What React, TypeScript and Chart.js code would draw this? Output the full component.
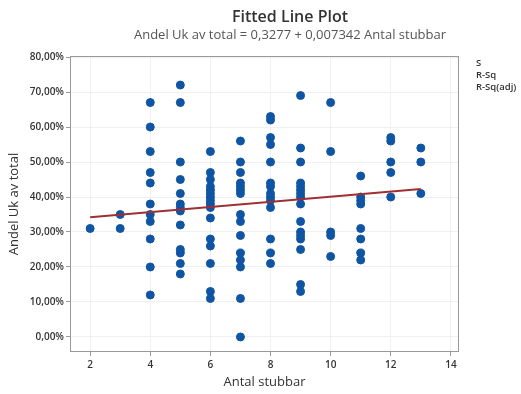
import React, { useEffect, useRef } from "react";
import { Chart, registerables } from "chart.js";
Chart.register(...registerables);

const stubbarLevels = [2, 3, 4, 5, 6, 7, 8, 9, 10, 11, 12, 13];
const andelByLevel: number[][] = [
  [31],
  [35, 31],
  [67, 60, 53, 47, 44, 38, 35, 33, 28, 20, 12],
  [72, 67, 50, 45, 41, 38, 37, 36, 32, 25, 24, 21, 18],
  [53, 47, 45, 43, 42, 41, 40, 39, 38, 37, 34, 28, 26, 21, 13, 11],
  [56, 50, 47, 44, 43, 42, 41, 35, 33, 29, 24, 22, 20, 11, 0],
  [63, 62, 57, 55, 50, 44, 43, 41, 40, 39, 37, 28, 24, 21],
  [69, 54, 50, 44, 43, 42, 41, 40, 38, 33, 30, 29, 28, 25, 15, 13],
  [67, 53, 30, 29, 23],
  [46, 40, 39, 38, 31, 28, 24, 22],
  [57, 56, 50, 47, 40],
  [54, 50, 41],
];
const intercept = 0.3277;
const slope = 0.007342;
const fitRange = [2, 13];
const xTicks = [2, 4, 6, 8, 10, 12, 14];
const yTicks = [0, 0.1, 0.2, 0.3, 0.4, 0.5, 0.6, 0.7, 0.8];
const titleText = "Fitted Line Plot";
const subtitleText = "Andel Uk av total = 0,3277 + 0,007342 Antal stubbar";
const statLabels = ["S", "R-Sq", "R-Sq(adj)"];

const FONT = "'Open Sans', 'Noto Sans', sans-serif";

export default function App() {
  const ref = useRef<HTMLCanvasElement>(null);
  useEffect(() => {
    document.body.style.margin = "0";
    const points: { x: number; y: number }[] = [];
    stubbarLevels.forEach((x, i) => {
      andelByLevel[i].forEach((v) => points.push({ x, y: v / 100 }));
    });
    const fit = fitRange.map((x) => ({ x, y: intercept + slope * x }));

    const decor = {
      id: "decor",
      beforeDatasetsDraw(chart: any) {
        const { ctx, chartArea: a } = chart;
        ctx.save();
        ctx.strokeStyle = "#9a9a9a";
        ctx.lineWidth = 1;
        ctx.strokeRect(a.left + 0.5, a.top + 0.5, a.right - a.left - 1, a.bottom - a.top - 1);
        ctx.restore();
      },
      afterDraw(chart: any) {
        const { ctx } = chart;
        ctx.save();
        ctx.textAlign = "center";
        ctx.textBaseline = "middle";
        ctx.fillStyle = "#333";
        ctx.font = `600 16px ${FONT}`;
        ctx.fillText(titleText, 290, 17);
        ctx.fillStyle = "#555";
        ctx.font = `13px ${FONT}`;
        ctx.fillText(subtitleText, 290, 35);
        ctx.textAlign = "left";
        ctx.fillStyle = "#333";
        ctx.font = `600 9.5px ${FONT}`;
        statLabels.forEach((s, i) => ctx.fillText(s, 476, 63 + i * 12));
        ctx.restore();
      },
    };

    const chart = new Chart(ref.current!, {
      type: "scatter",
      data: {
        datasets: [
          {
            type: "line",
            data: fit,
            borderColor: "#9e3033",
            borderWidth: 2,
            pointRadius: 0,
            order: 0,
          } as any,
          {
            data: points,
            backgroundColor: "#0f55a3",
            borderColor: "#0f55a3",
            pointRadius: 4,
            pointHoverRadius: 4,
            order: 1,
          },
        ],
      },
      plugins: [decor],
      options: {
        responsive: false,
        animation: false,
        layout: { padding: { top: 56, right: 62, left: 0, bottom: 0 } },
        plugins: { legend: { display: false }, tooltip: { enabled: false } },
        scales: {
          x: {
            type: "linear",
            min: 1.33,
            max: 14.27,
            afterBuildTicks: (s: any) => { s.ticks = xTicks.map((v) => ({ value: v })); },
            afterFit: (s: any) => { s.height = 42; },
            grid: { color: "#eef0f3", tickLength: 4, tickColor: "#9a9a9a", drawTicks: true },
            border: { display: false },
            ticks: { color: "#333", font: { family: FONT, size: 10, weight: 600 }, padding: 3 },
            title: { display: true, text: "Antal stubbar", color: "#333", font: { family: FONT, size: 13 }, padding: { top: 3 } },
          },
          y: {
            type: "linear",
            min: -0.043,
            max: 0.803,
            afterBuildTicks: (s: any) => { s.ticks = yTicks.map((v) => ({ value: v })); },
            afterFit: (s: any) => { s.width = 70; },
            grid: { color: "#eef0f3", tickLength: 4, tickColor: "#9a9a9a" },
            border: { display: false },
            ticks: {
              color: "#333",
              font: { family: FONT, size: 10, weight: 600 },
              padding: 2,
              callback: (v: any) => (Number(v) * 100).toFixed(2).replace(".", ",") + "%",
            },
            title: { display: true, text: "Andel Uk av total", color: "#333", font: { family: FONT, size: 13 }, padding: { top: 6, bottom: 0 } },
          },
        },
      },
    });
    return () => chart.destroy();
  }, []);
  return <canvas ref={ref} width={521} height={394} style={{ display: "block" }} />;
}
